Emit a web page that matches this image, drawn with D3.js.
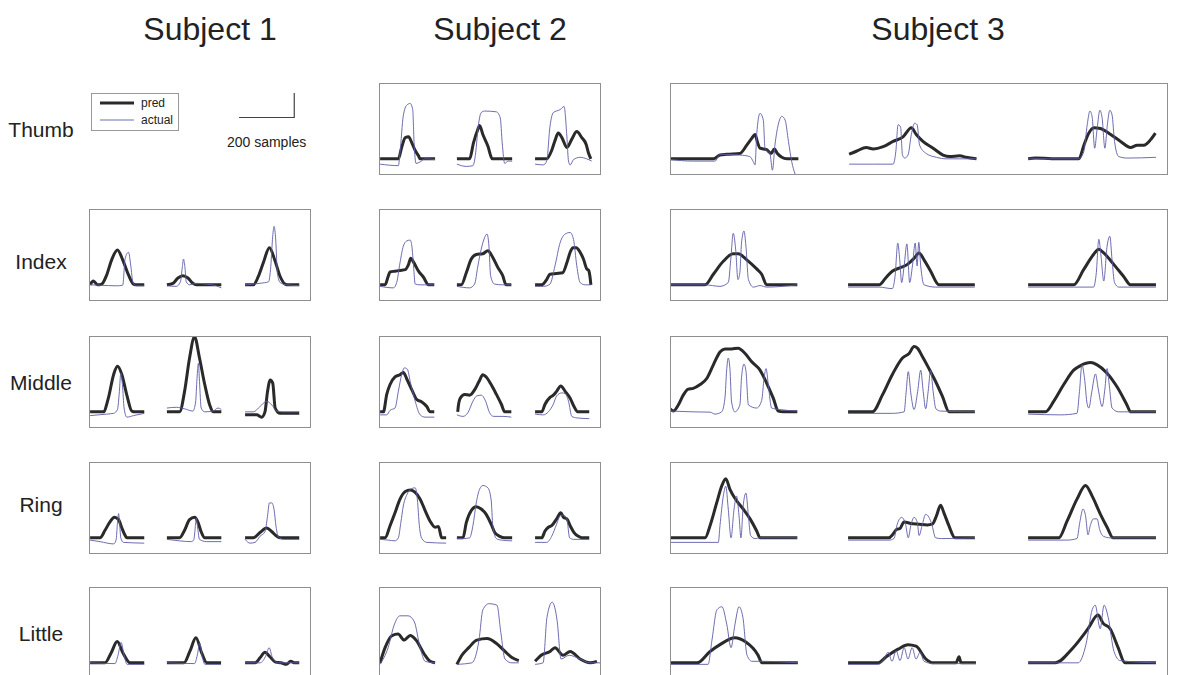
<!DOCTYPE html>
<html><head><meta charset="utf-8">
<script src="https://cdn.jsdelivr.net/npm/d3@7"></script>
<style>body{margin:0;background:#fff}text{font-family:"Liberation Sans",Arial,sans-serif;fill:#222}</style>
</head><body><svg id="c" width="1182" height="675"></svg>
<script>
const subjects = ["Subject 1","Subject 2","Subject 3"];
const fingers = ["Thumb","Index","Middle","Ring","Little"];
const legendLabels = ["pred","actual"];
const scaleBarSamples = 200;
const scaleBarLabel = "200 samples";

// ---- data: each trace = 3 trials, each trial = [[sample, value], ...] ----
const s1IndexPred = [
 [[0,0],[12,0.05],[27,0],[42,0.01],[60,0.13],[78,0.33],[99,0.46],[118,0.33],[139,0.13],[157,0.01],[169,0],[196,0]],
 [[0,0],[22,0.02],[40,0.09],[58,0.12],[76,0.09],[94,0.02],[106,0],[197,0]],
 [[0,0],[30,0],[48,0.11],[66,0.29],[88,0.49],[109,0.31],[127,0.11],[145,0.01],[157,0],[196,0]]];
const s1IndexActual = [
 [[0,0],[36,-0.005],[97,-0.013],[118,-0.005],[127,0.35],[139,0.43],[147,0.26],[155,0.03],[169,-0.013],[196,-0.013]],
 [[0,-0.013],[34,-0.02],[49,0.04],[56,0.24],[60,0.34],[65,0.24],[70,0.04],[82,0],[106,0.02],[143,0.01],[179,-0.013],[197,-0.04]],
 [[0,0],[54,0.02],[85,0.04],[93,0.24],[100,0.64],[105,0.77],[111,0.59],[117,0.15],[127,0.03],[151,0],[196,-0.01]]];
const s1MiddlePred = [
 [[0,0],[48,0],[66,0.18],[85,0.49],[99,0.6],[115,0.49],[133,0.22],[151,0.01],[163,0],[196,0]],
 [[0,0],[46,0],[64,0.27],[82,0.71],[100,0.99],[118,0.71],[137,0.36],[155,0.09],[167,0],[197,0]],
 [[0,-0.04],[42,-0.04],[60,-0.07],[72,0],[81,0.26],[91,0.42],[100,0.38],[109,0.05],[127,-0.02],[196,-0.02]]];
const s1MiddleActual = [
 [[0,-0.05],[60,-0.03],[85,-0.02],[99,0.03],[106,0.27],[111,0.51],[117,0.36],[123,0.05],[133,-0.07],[157,-0.05],[196,-0.02]],
 [[0,0.05],[34,0.06],[64,0.04],[94,0.01],[104,0.13],[109,0.44],[114,0.64],[118,0.4],[124,0.05],[137,0],[167,0.01],[185,0.05],[197,0.03]],
 [[0,0],[30,0],[54,0.07],[78,0.14],[97,0.09],[115,0.01],[139,0],[196,0]]];
const s1RingPred = [
 [[0,0],[36,0],[54,0.1],[72,0.21],[88,0.27],[103,0.24],[115,0.13],[127,0.03],[133,0],[196,0]],
 [[0,0],[46,0],[64,0.1],[82,0.24],[100,0.27],[112,0.21],[124,0.08],[137,0],[197,0]],
 [[0,0],[30,0],[54,0.07],[78,0.13],[97,0.08],[115,0.02],[127,0],[196,0]]];
const s1RingActual = [
 [[0,-0.03],[36,-0.05],[85,-0.08],[94,-0.03],[99,0.19],[103,0.32],[106,0.24],[111,0],[121,-0.06],[196,-0.07]],
 [[0,-0.02],[46,-0.04],[88,-0.05],[97,-0.03],[103,0.15],[106,0.26],[112,0.11],[118,-0.02],[143,-0.05],[197,-0.05]],
 [[0,-0.02],[18,-0.07],[36,-0.06],[54,0.02],[72,0.08],[81,0.28],[88,0.46],[97,0.46],[105,0.37],[112,0.15],[121,0.01],[139,-0.02],[196,-0.02]]];
const s1LittlePred = [
 [[0,0],[54,0],[76,0.13],[98,0.28],[119,0.13],[145,0],[196,0]],
 [[0,0],[62,0],[83,0.15],[105,0.33],[127,0.12],[145,0],[196,0]],
 [[0,0],[36,0],[55,0.07],[72,0.14],[90,0.08],[110,0.01],[130,0],[150,-0.02],[165,0.02],[180,0],[196,0]]];
const s1LittleActual = [
 [[0,0],[90,-0.01],[101,0.1],[112,0.27],[123,0.1],[134,-0.02],[196,-0.02]],
 [[0,0],[100,-0.01],[110,0.1],[119,0.26],[128,0.08],[138,-0.02],[196,-0.02]],
 [[0,0],[54,0],[76,0.1],[87,0.2],[98,0.08],[119,0],[196,0]]];

const s2ThumbPred = [
 [[0,0],[66,0],[78,0.15],[91,0.28],[103,0.29],[115,0.21],[127,0.11],[139,0.04],[145,0],[199,0]],
 [[0,0],[46,0],[60,0.21],[76,0.39],[82,0.44],[94,0.32],[112,0.17],[128,0],[200,0]],
 [[0,0],[42,0],[60,0.11],[72,0.24],[84,0.34],[97,0.28],[115,0.15],[133,0.26],[151,0.36],[169,0.28],[185,0.19],[193,0.08],[202,0]]];
const s2ThumbActual = [
 [[0,-0.07],[66,-0.09],[72,0.08],[84,0.57],[97,0.71],[109,0.73],[118,0.65],[123,0.21],[130,-0.06],[145,-0.04],[163,0],[199,-0.01]],
 [[0,-0.07],[34,-0.1],[58,-0.09],[68,0.08],[76,0.39],[88,0.61],[100,0.63],[143,0.62],[157,0.54],[164,0.21],[173,-0.06],[185,-0.03],[200,-0.03]],
 [[0,-0.07],[30,-0.08],[42,-0.03],[54,0.43],[66,0.61],[91,0.65],[105,0.69],[115,0.3],[121,-0.03],[127,-0.08],[139,-0.01],[163,0.02],[187,0],[205,-0.03]]];
const s2IndexPred = [
 [[0,0],[18,0],[30,0.12],[36,0.17],[54,0.18],[72,0.19],[91,0.2],[103,0.27],[111,0.35],[121,0.3],[139,0.18],[157,0.1],[175,0],[196,0]],
 [[0,0],[16,0],[34,0.16],[52,0.34],[70,0.4],[94,0.41],[112,0.45],[130,0.36],[148,0.23],[166,0.12],[178,0],[197,0]],
 [[0,0],[24,0],[42,0.07],[54,0.14],[78,0.15],[100,0.16],[115,0.29],[127,0.43],[137,0.49],[149,0.49],[163,0.43],[175,0.34],[187,0.21],[194,0.19],[199,0.1],[202,0]]];
const s2IndexActual = [
 [[0,-0.02],[48,-0.04],[60,0.03],[72,0.29],[84,0.51],[97,0.58],[109,0.59],[115,0.51],[121,0.25],[127,0.01],[145,0],[196,0]],
 [[0,-0.02],[46,-0.04],[64,0.01],[76,0.25],[88,0.47],[100,0.62],[109,0.67],[116,0.51],[122,0.12],[136,0.01],[166,0],[197,0]],
 [[0,-0.02],[30,-0.02],[54,0.01],[72,0.25],[91,0.56],[109,0.67],[127,0.69],[139,0.6],[151,0.25],[163,0.03],[181,0],[202,0]]];
const s2MiddlePred = [
 [[0,0],[12,0],[24,0.23],[36,0.36],[54,0.46],[72,0.49],[84,0.52],[97,0.43],[115,0.29],[133,0.16],[151,0.13],[169,0.07],[181,0],[196,0]],
 [[3,0],[5,0.07],[12,0.18],[28,0.23],[46,0.22],[64,0.29],[80,0.4],[94,0.49],[106,0.46],[124,0.36],[143,0.23],[161,0.1],[173,0],[197,0]],
 [[0,0],[24,0],[36,0.1],[54,0.19],[66,0.22],[78,0.27],[93,0.34],[109,0.27],[127,0.18],[141,0.07],[154,0],[196,0]]];
const s2MiddleActual = [
 [[0,-0.04],[24,-0.04],[36,0.02],[54,0.05],[66,0.27],[78,0.49],[88,0.58],[99,0.56],[109,0.4],[127,0.14],[145,-0.04],[163,-0.07],[196,-0.07]],
 [[0,-0.04],[22,-0.06],[40,-0.01],[58,0.14],[72,0.21],[88,0.22],[104,0.14],[118,-0.01],[133,-0.06],[167,-0.06],[197,-0.07]],
 [[0,-0.03],[30,-0.04],[48,0],[66,0.1],[78,0.21],[97,0.25],[109,0.24],[121,0.14],[133,-0.06],[151,-0.08],[196,-0.09]]];
const s2RingPred = [
 [[0,0],[18,0],[36,0.16],[54,0.33],[72,0.51],[91,0.61],[109,0.63],[127,0.6],[145,0.51],[163,0.36],[181,0.22],[199,0.14],[211,0.15],[223,0],[239,0]],
 [[0,0],[22,0],[34,0.2],[52,0.36],[70,0.41],[88,0.38],[106,0.31],[124,0.18],[137,0.07],[155,0.02],[173,0],[200,0]],
 [[0,0],[24,0],[36,0.09],[48,0.14],[60,0.16],[78,0.25],[93,0.33],[103,0.27],[115,0.25],[127,0.16],[141,0.07],[157,0.02],[169,0],[196,0]]];
const s2RingActual = [
 [[0,-0.02],[30,-0.03],[54,-0.04],[66,0],[75,0.2],[84,0.42],[97,0.57],[115,0.65],[127,0.66],[135,0.5],[142,0.16],[151,-0.01],[169,-0.06],[239,-0.07]],
 [[0,-0.01],[22,-0.01],[46,0],[58,0.16],[70,0.46],[82,0.64],[94,0.69],[112,0.66],[124,0.5],[130,0.16],[143,-0.01],[161,-0.03],[200,-0.04]],
 [[0,-0.06],[42,-0.06],[60,0.02],[78,0.18],[91,0.29],[103,0.3],[115,0.25],[125,0],[139,-0.02],[196,-0.02]]];
const s2LittlePred = [
 [[0,0],[18,0.2],[43,0.36],[65,0.38],[87,0.3],[109,0.36],[130,0.3],[159,0.12],[181,0.02],[199,0]],
 [[0,-0.02],[18,0.1],[43,0.2],[72,0.3],[109,0.32],[145,0.25],[174,0.15],[199,0.07],[224,0.03]],
 [[0,0.02],[22,0.1],[54,0.15],[72,0.2],[101,0.1],[127,0.15],[163,0.05],[199,0],[224,0.02]]];
const s2LittleActual = [
 [[0,-0.02],[29,0.2],[51,0.5],[72,0.62],[101,0.62],[123,0.55],[145,0.2],[163,0.02],[199,0]],
 [[0,-0.02],[54,0],[80,0.3],[94,0.7],[116,0.78],[145,0.76],[159,0.4],[174,0.05],[199,0],[224,0]],
 [[0,-0.02],[29,0],[43,0.6],[62,0.8],[80,0.55],[94,0.05],[123,0.1],[163,0.05],[199,0],[235,0]]];

const s3ThumbPred = [
 [[0,0],[84,0],[157,0],[181,0.05],[205,0.06],[253,0.07],[278,0.18],[296,0.27],[308,0.32],[316,0.23],[326,0.14],[350,0.12],[366,0.07],[378,0.13],[389,0.07],[405,0.02],[423,0],[465,0]],
 [[4,0.06],[30,0.1],[66,0.15],[91,0.13],[127,0.16],[163,0.23],[199,0.29],[229,0.41],[247,0.32],[271,0.23],[308,0.14],[344,0.05],[368,0.03],[404,0.04],[428,0.02],[465,0]],
 [[0,0],[27,0.01],[118,0],[184,0],[202,0.18],[220,0.34],[238,0.41],[262,0.4],[299,0.32],[335,0.23],[371,0.15],[395,0.18],[419,0.18],[443,0.25],[461,0.34]]];
const s3ThumbActual = [
 [[0,-0.01],[84,-0.03],[163,-0.03],[181,0.06],[253,0.05],[289,0.03],[302,-0.04],[308,-0.08],[314,0.32],[326,0.6],[338,0.51],[344,0.14],[353,0.1],[362,0.07],[371,-0.15],[380,0.18],[392,0.45],[405,0.56],[417,0.51],[429,0.23],[441,-0.04],[453,-0.2]],
 [[4,-0.07],[91,-0.07],[163,-0.07],[173,0.1],[181,0.45],[190,0.42],[197,0.05],[205,0.01],[217,0.05],[229,0.32],[241,0.47],[250,0.45],[259,0.18],[283,0.07],[320,0.02],[356,0],[465,0]],
 [[0,0],[118,0],[184,0],[202,0.1],[214,0.45],[224,0.63],[232,0.55],[241,0.14],[250,0.4],[260,0.64],[268,0.54],[278,0.14],[287,0.45],[296,0.64],[304,0.58],[313,0.23],[328,0.03],[359,0.01],[463,0.02]]];
const s3IndexPred = [
 [[0,0],[127,0],[157,0.14],[193,0.31],[229,0.41],[247,0.41],[278,0.33],[314,0.21],[332,0.14],[350,0],[461,0]],
 [[0,0],[112,0],[136,0.09],[160,0.18],[185,0.22],[215,0.27],[239,0.35],[257,0.42],[275,0.33],[299,0.18],[329,0],[459,0]],
 [[0,0],[165,0],[201,0.2],[237,0.4],[256,0.47],[274,0.42],[310,0.27],[346,0.11],[371,0],[463,0]]];
const s3IndexActual = [
 [[0,0],[127,0],[181,-0.02],[211,0.03],[220,0.33],[229,0.68],[238,0.46],[246,0.07],[253,0.16],[259,0.55],[268,0.71],[275,0.51],[284,0.07],[302,-0.03],[326,-0.01],[350,-0.03],[461,0]],
 [[0,-0.03],[112,-0.03],[160,-0.05],[170,0.11],[180,0.55],[187,0.33],[194,0.03],[203,0.25],[213,0.54],[223,0.03],[233,0.25],[243,0.55],[250,0.25],[256,0.56],[263,0.25],[275,0],[317,-0.03],[459,-0.03]],
 [[0,-0.03],[165,-0.03],[237,-0.03],[247,0.16],[256,0.6],[264,0.38],[274,0.05],[286,0.51],[296,0.64],[304,0.33],[313,0.03],[328,-0.03],[463,-0.03]]];
const s3MiddlePred = [
 [[0,0.04],[12,0.01],[30,0.09],[48,0.22],[66,0.3],[84,0.31],[109,0.36],[133,0.44],[157,0.62],[181,0.79],[199,0.83],[223,0.83],[247,0.84],[272,0.77],[296,0.66],[326,0.55],[350,0.38],[374,0.18],[392,0.01],[410,0],[461,0]],
 [[0,0],[88,0],[124,0.22],[160,0.49],[197,0.71],[221,0.77],[239,0.86],[251,0.84],[269,0.73],[293,0.57],[317,0.4],[342,0.2],[366,0],[459,0]],
 [[0,0],[63,0],[93,0.14],[129,0.36],[165,0.55],[190,0.61],[226,0.65],[250,0.62],[286,0.51],[322,0.33],[358,0.09],[371,0],[463,0]]];
const s3MiddleActual = [
 [[0,0.01],[84,0],[145,-0.004],[163,-0.03],[187,0],[199,0.18],[205,0.54],[211,0.71],[217,0.57],[223,0.13],[235,0],[253,0.09],[259,0.45],[268,0.63],[275,0.54],[284,0.09],[314,0.05],[332,0.15],[341,0.45],[348,0.57],[356,0.36],[368,0.05],[398,0.03],[461,0.01]],
 [[0,-0.02],[160,-0.02],[203,0],[210,0.25],[218,0.53],[227,0.25],[239,0.03],[252,0.27],[263,0.55],[272,0.27],[281,0.04],[290,0.27],[299,0.55],[308,0.27],[318,0.04],[335,0.01],[459,0]],
 [[0,-0.03],[117,-0.04],[177,-0.02],[186,0.27],[195,0.62],[204,0.45],[214,0.1],[220,0.05],[230,0.25],[244,0.5],[254,0.3],[268,0.07],[278,0.3],[286,0.57],[294,0.35],[304,0.05],[328,0],[463,0]]];
const s3RingPred = [
 [[0,0],[127,0],[145,0.16],[169,0.46],[187,0.68],[202,0.78],[217,0.64],[241,0.49],[265,0.38],[290,0.25],[314,0.09],[326,0],[461,0]],
 [[0,0],[148,0],[161,0.04],[175,0.11],[187,0.12],[203,0.21],[227,0.19],[257,0.18],[287,0.17],[305,0.18],[320,0.29],[335,0.43],[347,0.33],[365,0.16],[387,0],[459,0]],
 [[0,0],[111,0],[141,0.22],[177,0.51],[208,0.69],[232,0.55],[262,0.31],[286,0.14],[308,0],[463,0]]];
const s3RingActual = [
 [[0,-0.06],[175,-0.06],[181,0.16],[193,0.55],[202,0.68],[211,0.38],[221,0],[232,0.38],[241,0.55],[250,0.29],[257,0],[265,0.42],[275,0.59],[284,0.29],[292,0.03],[308,-0.01],[326,0],[461,0]],
 [[0,-0.03],[148,-0.03],[166,-0.01],[178,0.18],[194,0.27],[208,0.18],[218,0],[227,0.16],[239,0.27],[251,0.2],[257,0.03],[269,0.18],[281,0.31],[293,0.27],[303,0.18],[317,0],[339,-0.01],[459,0]],
 [[0,-0.03],[141,-0.03],[177,-0.01],[187,0.2],[199,0.38],[208,0.29],[217,0.04],[225,0.16],[237,0.25],[250,0.25],[259,0.11],[273,0.02],[297,0],[463,0]]];
const s3LittlePred = [
 [[0,0],[98,0],[145,0.15],[181,0.24],[235,0.33],[272,0.28],[319,0.1],[333,0],[463,0]],
 [[0,0],[109,0],[138,0.08],[181,0.18],[217,0.24],[246,0.22],[282,0.05],[308,0],[391,0],[402,0.08],[409,0],[463,0]],
 [[0,0],[98,0],[163,0.2],[217,0.45],[253,0.63],[272,0.52],[297,0.45],[326,0.2],[351,0],[463,0]]];
const s3LittleActual = [
 [[0,-0.02],[138,-0.02],[152,0.3],[170,0.7],[188,0.74],[206,0.5],[221,0.2],[235,0.5],[250,0.74],[264,0.6],[279,0.1],[297,0.02],[333,0.02],[463,0]],
 [[0,-0.02],[109,-0.02],[130,0.05],[145,0.14],[159,0.02],[174,0.16],[188,0.03],[203,0.2],[217,0.05],[232,0.2],[246,0.05],[261,0.14],[275,0.02],[308,-0.01],[463,-0.01]],
 [[0,0],[181,0],[210,0.25],[232,0.7],[243,0.76],[261,0.45],[275,0.76],[290,0.6],[311,0.15],[333,0.03],[463,0]]];

// ---- layout ----
const svg = d3.select("#c");
const rowTops = [83, 209, 336, 462, 587], panelH = 91;
const colLeft = [89, 379, 670], colW = [221, 221, 497];
const colSamples = [800, 800, 1800];
const segStarts = [[4, 282, 565], [4, 282, 565], [0, 645, 1297]];
const titleX = [210, 500, 938];
const labelY = [130, 262, 383, 505, 634];
const predColor = "#2a2a2a", actColor = "#5c5ca8", frameColor = "#8f8f8f";

const panels = [
  {s:0,f:1,pred:s1IndexPred,act:s1IndexActual},
  {s:0,f:2,pred:s1MiddlePred,act:s1MiddleActual},
  {s:0,f:3,pred:s1RingPred,act:s1RingActual},
  {s:0,f:4,pred:s1LittlePred,act:s1LittleActual},
  {s:1,f:0,pred:s2ThumbPred,act:s2ThumbActual},
  {s:1,f:1,pred:s2IndexPred,act:s2IndexActual},
  {s:1,f:2,pred:s2MiddlePred,act:s2MiddleActual},
  {s:1,f:3,pred:s2RingPred,act:s2RingActual},
  {s:1,f:4,pred:s2LittlePred,act:s2LittleActual},
  {s:2,f:0,pred:s3ThumbPred,act:s3ThumbActual},
  {s:2,f:1,pred:s3IndexPred,act:s3IndexActual},
  {s:2,f:2,pred:s3MiddlePred,act:s3MiddleActual},
  {s:2,f:3,pred:s3RingPred,act:s3RingActual},
  {s:2,f:4,pred:s3LittlePred,act:s3LittleActual}
];

subjects.forEach((t,i)=>{
  svg.append("text").attr("x",titleX[i]).attr("y",40).attr("text-anchor","middle")
    .style("font-size","32px").text(t);
});
fingers.forEach((t,i)=>{
  svg.append("text").attr("x",41).attr("y",labelY[i]+7).attr("text-anchor","middle")
    .style("font-size","21px").text(t);
});

function xScaleFor(s){
  return d3.scaleLinear().domain([0,colSamples[s]]).range([colLeft[s],colLeft[s]+colW[s]]);
}

panels.forEach((p,pi)=>{
  const x = xScaleFor(p.s);
  const top = rowTops[p.f];
  const y = d3.scaleLinear().domain([-0.2,1.0]).range([top+panelH, top]);
  const g = svg.append("g");
  const cid = "clip"+pi;
  svg.append("clipPath").attr("id",cid).append("rect")
    .attr("x",colLeft[p.s]).attr("y",top).attr("width",colW[p.s]).attr("height",panelH);
  const lines = g.append("g").attr("clip-path",`url(#${cid})`);
  [ [p.pred, predColor, 3], [p.act, actColor, 0.9] ].forEach(([series,color,w])=>{
    series.forEach((seg,k)=>{
      const off = segStarts[p.s][k];
      const line = d3.line().x(d=>x(off+d[0])).y(d=>y(d[1])).curve(d3.curveMonotoneX);
      lines.append("path").attr("d",line(seg)).attr("fill","none")
        .attr("stroke",color).attr("stroke-width",w).attr("stroke-linejoin","round");
    });
  });
  g.append("rect").attr("x",colLeft[p.s]+0.5).attr("y",top+0.5)
    .attr("width",colW[p.s]).attr("height",panelH)
    .attr("fill","none").attr("stroke",frameColor).attr("stroke-width",1);
});

// legend
const lg = svg.append("g");
lg.append("rect").attr("x",91.5).attr("y",93.5).attr("width",87).attr("height",37)
  .attr("fill","#fff").attr("stroke","#999").attr("stroke-width",1);
[[predColor,3],[actColor,0.9]].forEach(([c,w],i)=>{
  const yy = 103 + i*17;
  lg.append("line").attr("x1",100).attr("x2",134).attr("y1",yy).attr("y2",yy)
    .attr("stroke",c).attr("stroke-width",w);
  lg.append("text").attr("x",141).attr("y",yy+4).style("font-size","12px").text(legendLabels[i]);
});

// scale bar using subject-1 x scale
const xs = xScaleFor(0);
const sb0 = 543;
const bx0 = xs(sb0), bx1 = xs(sb0+scaleBarSamples);
svg.append("path").attr("d",`M${bx0},117.5H${bx1}V93`).attr("fill","none")
  .attr("stroke","#444").attr("stroke-width",1.2);
svg.append("text").attr("x",(bx0+bx1)/2).attr("y",147).attr("text-anchor","middle")
  .style("font-size","14px").text(scaleBarLabel);
</script></body></html>
